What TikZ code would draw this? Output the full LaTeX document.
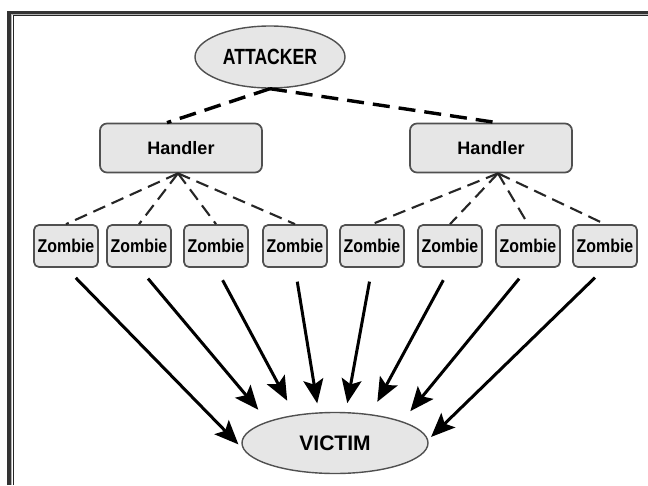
\documentclass[tikz,border=0pt]{standalone}
\usepackage{fontspec}
\setmainfont{Liberation Sans}
\newfontfamily\narrowfont[FakeStretch=0.8]{Liberation Sans}
\newfontfamily\zombiefont[FakeStretch=0.86]{Liberation Sans}
\usetikzlibrary{arrows.meta,shapes.geometric}
\definecolor{boxfill}{RGB}{230,230,230}
\definecolor{boxline}{RGB}{80,80,80}

\begin{document}
\begin{tikzpicture}[x=1pt,y=-1pt,
  endpoint/.style={ellipse,draw=boxline,line width=1.4pt,fill=boxfill,
    minimum width=186pt,minimum height=61pt,inner sep=0pt,
    font=\fontsize{21}{21}\selectfont\bfseries},
  handlerbox/.style={rectangle,rounded corners=7pt,draw=boxline,line width=1.7pt,
    fill=boxfill,minimum width=162pt,minimum height=49pt,inner sep=0pt,
    font=\fontsize{18}{18}\selectfont\bfseries},
  zombiebox/.style={rectangle,rounded corners=5pt,draw=boxline,line width=1.7pt,
    fill=boxfill,minimum width=64pt,minimum height=42pt,inner sep=0pt,
    font=\fontsize{18.5}{18.5}\selectfont\zombiefont\bfseries},
  cmd/.style={line width=3.4pt,dash pattern=on 17pt off 9pt},
  ctrl/.style={line width=2.1pt,black!85,dash pattern=on 13pt off 7pt},
  hit/.style={line width=3pt,-{Stealth[length=24pt,width=20pt,inset=5pt]}}]
\useasboundingbox (0,0) rectangle (648,485);
\fill[white] (0,0) rectangle (648,485);

% frame
\draw[line width=3.5pt,black!80] (9.2,485) -- (9.2,12.4) -- (648,12.4);
\draw[line width=1.2pt,black!30] (11.8,485) -- (11.8,14.6) -- (648,14.6);
\draw[line width=1pt,black!85] (13.3,485) -- (13.3,15.9) -- (648,15.9);

% nodes
\node[endpoint,minimum width=150pt,minimum height=62pt,
  font=\fontsize{22}{22}\selectfont\narrowfont\bfseries] (attacker) at (270,57) {ATTACKER};
\node[handlerbox] (handlerL) at (181,148) {Handler};
\node[handlerbox] (handlerR) at (491,148) {Handler};
\foreach \i/\x in {1/66,2/139,3/216,4/295,5/372,6/450,7/528,8/605}
  \node[zombiebox] (z\i) at (\x,246) {Zombie};
\node[endpoint] (victim) at (335,443) {VICTIM};

% control
\draw[cmd] (attacker.south) -- ([xshift=-14pt]handlerL.north);
\draw[cmd] (attacker.south) -- ([xshift=6pt]handlerR.north);
\foreach \i in {1,...,4}
  \draw[ctrl] ([xshift=-3pt]handlerL.south) -- (z\i.north);
\foreach \i in {5,...,8}
  \draw[ctrl] ([xshift=7pt]handlerR.south) -- (z\i.north);

% attack
\foreach \i/\a/\g in {1/184/7,2/162/15,3/145/16,4/118/9,5/71/9,6/39/14,7/18/13,8/2/4}
  \draw[hit,shorten <=14pt,shorten >=\g pt] (z\i.south) -- (victim.\a);
\end{tikzpicture}
\end{document}
